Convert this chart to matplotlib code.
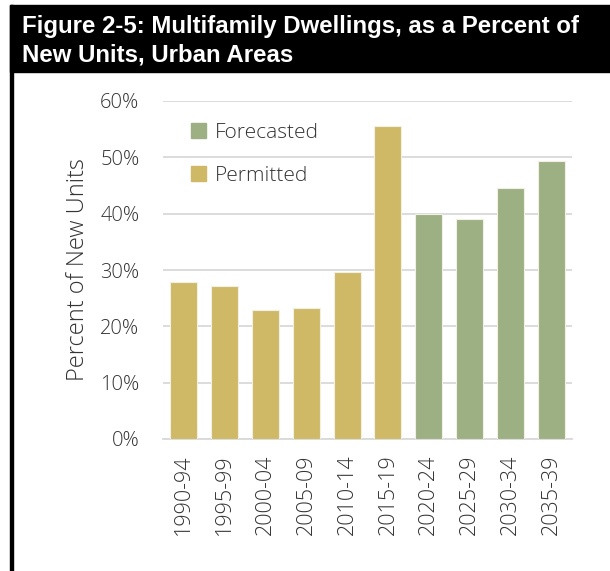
import matplotlib.pyplot as plt
from matplotlib.patches import Rectangle, Patch

periods = ['1990-94', '1995-99', '2000-04', '2005-09', '2010-14',
           '2015-19', '2020-24', '2025-29', '2030-34', '2035-39']
percent = [27.8, 27.2, 22.9, 23.3, 29.7, 55.6, 40.0, 39.1, 44.5, 49.4]
kind = ['Permitted'] * 6 + ['Forecasted'] * 4
yticks = [0, 10, 20, 30, 40, 50, 60]

colors = {'Permitted': '#CFB967', 'Forecasted': '#9DB083'}
txt = '#333333'
font = ['Open Sans', 'DejaVu Sans']

fig = plt.figure(figsize=(6.10, 5.71), dpi=100)

# title bar and frame line on the left
fig.patches.append(Rectangle((10 / 610, 1 - 72 / 571), 600 / 610, 67 / 571,
                             transform=fig.transFigure, color='black', zorder=0))
fig.patches.append(Rectangle((10 / 610, 0), 2.5 / 610, 1 - 5 / 571,
                             transform=fig.transFigure, color='black', zorder=0))
for y, line in [(27, 'Figure 2-5: Multifamily Dwellings, as a Percent of'),
                (55, 'New Units, Urban Areas')]:
    fig.text(22 / 610, 1 - y / 571, line, color='white', fontsize=17.3,
             fontweight='bold', family='Liberation Sans', va='center', ha='left')

ax = fig.add_axes([163 / 610, 1 - 439 / 571, 409 / 610, 338 / 571])
x = range(len(periods))
ax.bar(x, percent, width=0.66, color=[colors[k] for k in kind],
       edgecolor='#F2F0E4', linewidth=0.8, zorder=3)

ax.set_xlim(-0.5, len(periods) - 0.5)
ax.set_ylim(0, 60)
ax.set_yticks(yticks)
ax.set_yticklabels([f'{v}%' for v in yticks], family=font, fontsize=14.5,
                   color=txt, fontweight='light')
ax.set_xticks(list(x))
ax.set_xticklabels(periods, rotation=90, family=font, fontsize=15.5, color=txt,
                   fontweight='light')
ax.tick_params(axis='y', length=0, pad=17)
ax.tick_params(axis='x', length=0, pad=11)
ax.grid(axis='y', color='#D9D9D9', linewidth=1.3, zorder=0)
for s in ['top', 'right', 'left']:
    ax.spines[s].set_visible(False)
ax.spines['bottom'].set_color('#D9D9D9')
ax.spines['bottom'].set_linewidth(1.3)

ax.set_ylabel('Percent of New Units', family=font, fontsize=17, color=txt,
              fontweight='light')
ax.yaxis.set_label_coords(-(163 - 90) / 409, 0.5)

handles = [Patch(color=colors['Forecasted'], label='Forecasted'),
           Patch(color=colors['Permitted'], label='Permitted')]
ax.legend(handles=handles, loc='upper left', bbox_to_anchor=(0.022, 0.99),
          frameon=False, prop={'family': font, 'size': 15, 'weight': 'light'},
          labelcolor=txt, handlelength=0.75, handleheight=0.75,
          handletextpad=0.4, labelspacing=1.1)

fig.savefig('out.png', dpi=100, facecolor='white')
